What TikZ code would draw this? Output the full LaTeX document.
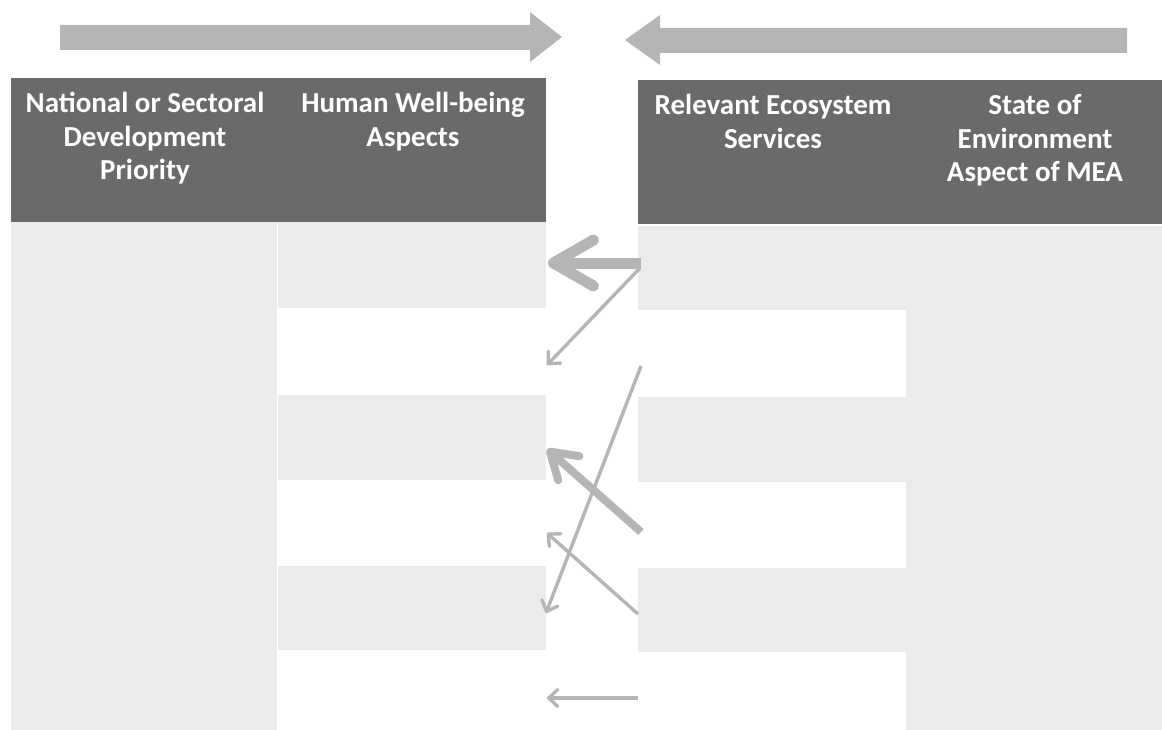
\documentclass[tikz,border=0pt]{standalone}
\usepackage{fontspec}
\setmainfont{Carlito}
\usetikzlibrary{arrows.meta}
\definecolor{hdr}{HTML}{6B6A68}
\definecolor{cell}{HTML}{EBEBEA}
\definecolor{arr}{HTML}{B4B5B4}
\begin{document}
\begin{tikzpicture}[x=1pt,y=-1pt,
  hdrbox/.style={fill=hdr, draw=none, inner sep=0pt, anchor=north west, minimum height=144pt},
  hdrtext/.style={text=white, font=\fontsize{29}{33.7}\selectfont\bfseries, align=center, anchor=north, inner sep=0pt},
  cellbox/.style={fill=cell, draw=none, inner sep=0pt, anchor=north west},
  bigarrow/.style={fill=arr, draw=none},
  thinarr/.style={draw=arr, line width=3.4pt, -{Straight Barb[length=9pt, width=17pt, round]}},
  thickarr/.style={draw=arr, line width=11pt, -{Straight Barb[length=40pt, width=46pt, round]}},
  midarr/.style={draw=arr, line width=8pt, -{Straight Barb[length=25pt, width=32pt, round]}}]
\useasboundingbox (0,0) rectangle (1162,730);

% top flow arrows
\fill[bigarrow] (60,25) -- (530,25) -- (530,12) -- (562,37) -- (530,62) -- (530,50) -- (60,50) -- cycle;
\fill[bigarrow] (1127,28) -- (660,28) -- (660,15) -- (625,40) -- (660,65) -- (660,53) -- (1127,53) -- cycle;

% headers
\node[hdrbox, minimum width=267pt] (h1) at (11,78) {};
\node[hdrbox, minimum width=268pt] (h2) at (278,78) {};
\node[hdrbox, minimum width=268pt] (h3) at (638,80) {};
\node[hdrbox, minimum width=256pt] (h4) at (906,80) {};
\node[hdrtext] (t1) at (145,92) {National or Sectoral\\Development\\Priority};
\node[hdrtext] (t2) at (413,92) {Human Well-being\\Aspects};
\node[hdrtext] (t3) at (773,94) {Relevant Ecosystem\\Services};
\node[hdrtext] (t4) at (1035,94) {State of\\Environment\\Aspect of MEA};

% body cells
\node[cellbox, minimum width=266pt, minimum height=508pt] (c1) at (11,222) {};
\node[cellbox, minimum width=268pt, minimum height=86pt] (c2a) at (278,222) {};
\node[cellbox, minimum width=268pt, minimum height=85pt] (c2b) at (278,395) {};
\node[cellbox, minimum width=268pt, minimum height=84pt] (c2c) at (278,566) {};
\node[cellbox, minimum width=268pt, minimum height=84pt] (c3a) at (638,226) {};
\node[cellbox, minimum width=268pt, minimum height=85pt] (c3b) at (638,397) {};
\node[cellbox, minimum width=268pt, minimum height=84pt] (c3c) at (638,568) {};
\node[cellbox, minimum width=256pt, minimum height=504pt] (c4) at (906,226) {};

% connector end points
\coordinate (s1) at (641,263);
\coordinate (e1) at (548,263);
\coordinate (s2) at (640,268);
\coordinate (e2) at (547,365);
\coordinate (s3) at (641,366);
\coordinate (e3) at (546,613);
\coordinate (s4) at (641,532);
\coordinate (e4) at (547,449);
\coordinate (s5) at (638,614);
\coordinate (e5) at (547,533);
\coordinate (s6) at (638,698);
\coordinate (e6) at (547,698);

% connectors
\draw[thinarr] (s2) -- (e2);
\draw[thinarr] (s3) -- (e3);
\draw[thinarr] (s5) -- (e5);
\draw[thinarr] (s6) -- (e6);
\draw[thickarr] (s1) -- (e1);
\draw[midarr] (s4) -- (e4);
\end{tikzpicture}
\end{document}
